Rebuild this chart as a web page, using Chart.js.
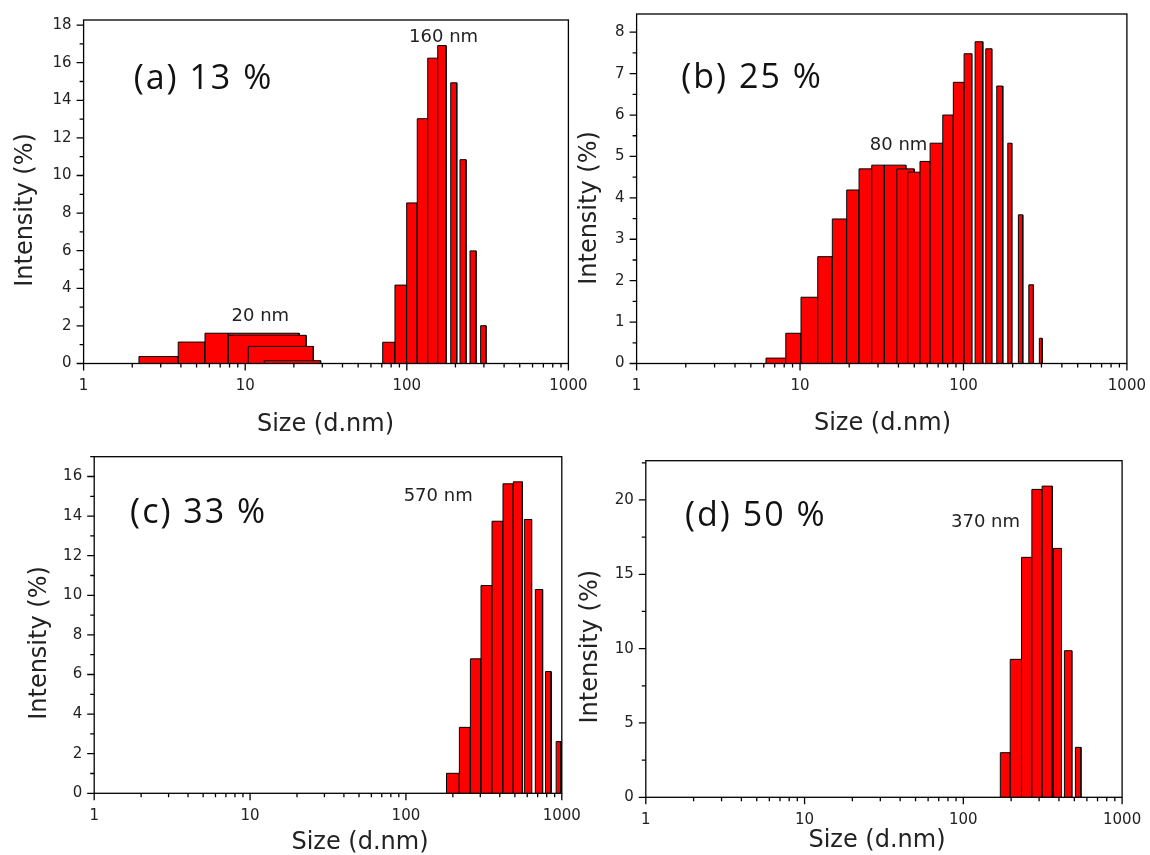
<!DOCTYPE html>
<html>
<head>
<meta charset="utf-8">
<script src="https://cdn.jsdelivr.net/npm/chart.js@4.4.0/dist/chart.umd.min.js"></script>
<style>
    html, body { margin: 0; padding: 0; background: #fff; }
    #wrap { position: relative; width: 1150px; height: 855px; overflow: hidden; }
    .panel { position: absolute; }
</style>
</head>
<body>
<div id="wrap">
    <div class="panel" style="left:0;top:0"><canvas id="chart-a" width="600" height="440"></canvas></div>
    <div class="panel" style="left:575px;top:0"><canvas id="chart-b" width="575" height="440"></canvas></div>
    <div class="panel" style="left:0;top:440px"><canvas id="chart-c" width="600" height="415"></canvas></div>
    <div class="panel" style="left:575px;top:440px"><canvas id="chart-d" width="575" height="415"></canvas></div>
</div>
<script>
// size bins (d.nm): each bar goes from sizeFrom to sizeTo, height = intensity (%)
const sizeFromA = [2.20, 3.85, 5.64, 7.86, 7.86, 10.45, 13.1, 70.9, 84.5, 99.8, 116.1, 134.7, 155.3, 187.0, 213.5, 246.2, 286.4];
const sizeToA   = [3.85, 5.64, 7.86, 21.6, 23.8, 26.4, 29.3, 84.5, 99.8, 116.1, 134.7, 155.3, 174.9, 203.8, 232.5, 268.1, 309.0];
const intensityA = [0.37, 1.14, 1.61, 1.61, 1.50, 0.91, 0.15, 1.13, 4.17, 8.54, 13.02, 16.24, 16.91, 14.93, 10.84, 5.99, 2.01];

const sizeFromB = [6.19, 8.18, 10.14, 12.83, 15.76, 19.3, 22.97, 27.46, 32.8, 39.1, 45.6, 54.2, 62.5, 74.7, 86.7, 100.9, 117.8, 136.9, 159.8, 186.7, 216.8, 251.0, 291.3];
const sizeToB   = [8.18, 10.14, 12.83, 15.76, 19.3, 22.97, 27.46, 32.8, 44.4, 49.9, 54.2, 62.5, 74.7, 86.7, 100.9, 112.4, 131.3, 149.0, 174.0, 197.5, 230.6, 267.9, 302.9];
const intensityB = [0.13, 0.73, 1.60, 2.58, 3.49, 4.19, 4.70, 4.79, 4.79, 4.70, 4.62, 4.88, 5.32, 6.00, 6.79, 7.48, 7.77, 7.60, 6.70, 5.32, 3.59, 1.90, 0.61];

const sizeFromC = [182.1, 220.2, 259.2, 303.2, 356.8, 419.5, 488.6, 575.1, 676.3, 785.9, 920.6];
const sizeToC   = [220.2, 259.2, 303.2, 356.8, 419.5, 488.6, 558.9, 640.3, 753.2, 853.7, 988.5];
const intensityC = [1.01, 3.33, 6.79, 10.49, 13.74, 15.63, 15.73, 13.83, 10.29, 6.15, 2.61];

const sizeFromD = [171.0, 197.4, 232.6, 270.1, 313.5, 369.2, 433.1, 508.0];
const sizeToD   = [197.4, 232.6, 270.1, 313.5, 363.4, 415.2, 482.3, 550.5];
const intensityD = [3.00, 9.28, 16.14, 20.71, 20.93, 16.74, 9.86, 3.36];

// log axis ticks
const xTickValues = [1, 2, 3, 4, 5, 6, 7, 8, 9, 10, 20, 30, 40, 50, 60, 70, 80, 90, 100, 200, 300, 400, 500, 600, 700, 800, 900, 1000];
const xLabelValues = [1, 10, 100, 1000];

const panels = [
    {
        id: 'chart-a', from: sizeFromA, to: sizeToA, values: intensityA,
        yMax: 18.27, yStep: 1, yLabelStep: 2,
        pad: { left: 0, right: 31.6, top: 20, bottom: 0 }, yAxisWidth: 83.6, xAxisHeight: 76.5,
        yTitleAt: [25.3, 210], xTitleAt: [325.5, 425],
        label: { text: '(a) 13 %', x: 2.04, y: 14.6 },
        notes: [{ text: '160 nm', x: 169, y: 17.37 }, { text: '20 nm', x: 12.4, y: 2.53 }]
    },
    {
        id: 'chart-b', from: sizeFromB, to: sizeToB, values: intensityB,
        yMax: 8.44, yStep: 0.5, yLabelStep: 1,
        pad: { left: 0, right: 23.1, top: 14, bottom: 0 }, yAxisWidth: 61.6, xAxisHeight: 76.5,
        yTitleAt: [14.7, 208], xTitleAt: [307.5, 424],
        label: { text: '(b) 25 %', x: 1.877, y: 6.65 },
        notes: [{ text: '80 nm', x: 40.1, y: 5.27 }]
    },
    {
        id: 'chart-c', from: sizeFromC, to: sizeToC, values: intensityC,
        yMax: 17.0, yStep: 1, yLabelStep: 2,
        pad: { left: 0, right: 38.2, top: 16.7, bottom: 0 }, yAxisWidth: 94.2, xAxisHeight: 61.7,
        yTitleAt: [39.4, 203], xTitleAt: [360, 403],
        label: { text: '(c) 33 %', x: 1.70, y: 13.64 },
        notes: [{ text: '570 nm', x: 161, y: 14.99 }]
    },
    {
        id: 'chart-d', from: sizeFromD, to: sizeToD, values: intensityD,
        yMax: 22.64, yStep: 2.5, yLabelStep: 5,
        pad: { left: 0, right: 27.9, top: 20.7, bottom: 0 }, yAxisWidth: 70.8, xAxisHeight: 57.7,
        yTitleAt: [15.6, 206.7], xTitleAt: [302, 401],
        label: { text: '(d) 50 %', x: 1.766, y: 18.24 },
        notes: [{ text: '370 nm', x: 138, y: 18.48 }]
    }
];

const tickFont = { family: 'DejaVu Sans', size: 15 };
const textColor = '#222';

function isLabelY(v, step) {
    const r = v / step;
    return Math.abs(r - Math.round(r)) < 1e-6;
}

// box, outward tick marks, axis titles and the text inside the plot
const framePlugin = {
    id: 'frame',
    afterDraw(chart, args, opts) {
        const ctx = chart.ctx;
        const a = chart.chartArea;
        const x = chart.scales.x;
        const y = chart.scales.y;
        ctx.save();
        ctx.strokeStyle = '#000';
        ctx.lineWidth = 1.3;
        ctx.strokeRect(a.left, a.top, a.right - a.left, a.bottom - a.top);

        ctx.beginPath();
        x.ticks.forEach(t => {
            const px = x.getPixelForValue(t.value);
            const len = xLabelValues.includes(t.value) ? 7 : 4;
            ctx.moveTo(px, a.bottom);
            ctx.lineTo(px, a.bottom + len);
        });
        y.ticks.forEach(t => {
            const py = y.getPixelForValue(t.value);
            const len = isLabelY(t.value, opts.yLabelStep) ? 7 : 4;
            ctx.moveTo(a.left, py);
            ctx.lineTo(a.left - len, py);
        });
        ctx.stroke();

        ctx.fillStyle = textColor;
        ctx.font = '24px "DejaVu Sans"';
        ctx.textAlign = 'center';
        ctx.textBaseline = 'middle';
        ctx.fillText('Size (d.nm)', opts.xTitleAt[0], opts.xTitleAt[1]);

        ctx.save();
        ctx.translate(opts.yTitleAt[0], opts.yTitleAt[1]);
        ctx.rotate(-Math.PI / 2);
        ctx.fillText('Intensity (%)', 0, 0);
        ctx.restore();

        ctx.font = '18px "DejaVu Sans"';
        opts.notes.forEach(n => {
            ctx.fillText(n.text, x.getPixelForValue(n.x), y.getPixelForValue(n.y));
        });

        ctx.fillStyle = '#111';
        ctx.font = '34px "Open Sans"';
        ctx.textAlign = 'left';
        ctx.textBaseline = 'alphabetic';
        ctx.letterSpacing = '2px';
        ctx.fillText(opts.label.text, x.getPixelForValue(opts.label.x), y.getPixelForValue(opts.label.y));
        ctx.restore();
    }
};

function makePanel(p) {
    const n = p.from.length;
    const datasets = p.from.map((x0, i) => ({
        data: [
            { x: x0, y: 0 },
            { x: x0, y: p.values[i] },
            { x: p.to[i], y: p.values[i] },
            { x: p.to[i], y: 0 }
        ],
        order: n - i,
        borderColor: '#000',
        borderWidth: 1,
        backgroundColor: '#ff0000',
        fill: 'origin',
        pointRadius: 0,
        tension: 0,
        borderJoinStyle: 'miter'
    }));

    return new Chart(document.getElementById(p.id), {
        type: 'line',
        data: { datasets: datasets },
        plugins: [framePlugin],
        options: {
            responsive: false,
            animation: false,
            devicePixelRatio: 1,
            layout: { padding: p.pad },
            plugins: {
                legend: { display: false },
                tooltip: { enabled: false },
                frame: {
                    yLabelStep: p.yLabelStep,
                    xTitleAt: p.xTitleAt,
                    yTitleAt: p.yTitleAt,
                    label: p.label,
                    notes: p.notes
                }
            },
            scales: {
                x: {
                    type: 'logarithmic',
                    min: 1,
                    max: 1000,
                    afterBuildTicks: s => {
                        s.ticks = xTickValues.map(v => ({ value: v, major: xLabelValues.includes(v) }));
                    },
                    ticks: {
                        autoSkip: false,
                        maxRotation: 0,
                        padding: 14,
                        font: tickFont,
                        color: textColor,
                        callback: v => xLabelValues.includes(v) ? String(v) : ''
                    },
                    grid: { display: false, drawTicks: false },
                    border: { display: false },
                    afterFit: s => {
                        s.height = p.xAxisHeight;
                        s.paddingLeft = 0;
                        s.paddingRight = 0;
                    }
                },
                y: {
                    type: 'linear',
                    min: 0,
                    max: p.yMax,
                    ticks: {
                        stepSize: p.yStep,
                        includeBounds: false,
                        autoSkip: false,
                        padding: 12,
                        font: tickFont,
                        color: textColor,
                        callback: v => isLabelY(v, p.yLabelStep) ? String(v) : ''
                    },
                    grid: { display: false, drawTicks: false },
                    border: { display: false },
                    afterFit: s => {
                        s.width = p.yAxisWidth;
                        s.paddingTop = 0;
                        s.paddingBottom = 0;
                    }
                }
            }
        }
    });
}

panels.forEach(makePanel);
</script>
</body>
</html>
